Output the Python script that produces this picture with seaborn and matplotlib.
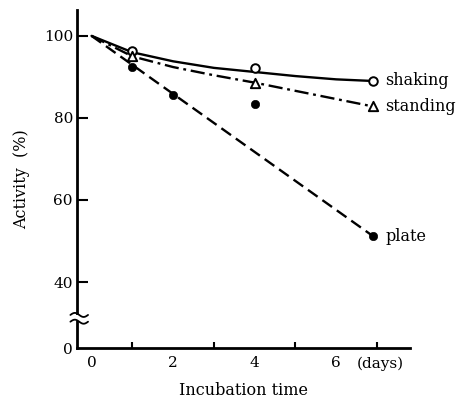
import numpy as np
import pandas as pd
import matplotlib
matplotlib.use("Agg")
import matplotlib.pyplot as plt
import seaborn as sns

# ---- data ----
days_shaking = [1, 4, 6.9]
act_shaking = [96.2, 92.1, 89.0]
days_standing = [1, 4, 6.9]
act_standing = [95.0, 88.6, 82.8]
days_plate = [1, 2, 4, 6.9]
act_plate = [92.3, 85.6, 83.3, 51.2]

fit_days = [0, 1, 2, 3, 4, 5, 6, 6.9]
fit_shaking = [100, 96.0, 93.8, 92.2, 91.2, 90.2, 89.4, 89.0]
fit_standing = [100, 95.0, 92.4, 90.4, 88.6, 86.6, 84.6, 82.8]
fit_plate_days = [0, 6.9]
fit_plate = [100, 51.2]

series_names = ["shaking", "standing", "plate"]
ytick_vals = [40, 60, 80, 100]
xtick_major = [0, 2, 4, 6]
xtick_minor = [1, 3, 5, 7]
zero_pos = 23.9  # broken-axis position of the "0" label

sns.set_theme(style="white")
plt.rcParams["font.family"] = ["DejaVu Serif"]
plt.rcParams.update({"text.color": "black", "axes.labelcolor": "black",
                     "xtick.color": "black", "ytick.color": "black"})

fig = plt.figure(figsize=(4.67, 4.01), dpi=100)
ax = fig.add_axes([0.165, 0.132, 0.713, 0.843])

lw = 1.7
sns.lineplot(x=fit_days, y=fit_shaking, ax=ax, color="black", lw=lw, linestyle="-")
sns.lineplot(x=fit_days, y=fit_standing, ax=ax, color="black", lw=lw, linestyle=(0, (6, 2, 1.2, 2)))
sns.lineplot(x=fit_plate_days, y=fit_plate, ax=ax, color="black", lw=lw, linestyle=(0, (5, 2.5)))

sns.scatterplot(x=days_shaking, y=act_shaking, ax=ax, marker="o", s=38,
                facecolor="white", edgecolor="black", linewidth=1.4, zorder=5)
sns.scatterplot(x=days_standing, y=act_standing, ax=ax, marker="^", s=45,
                facecolor="white", edgecolor="black", linewidth=1.4, zorder=5)
sns.scatterplot(x=days_plate, y=act_plate, ax=ax, marker="o", s=36,
                color="black", edgecolor="black", zorder=5)

ends = [(days_shaking[-1], act_shaking[-1]), (days_standing[-1], act_standing[-1]),
        (days_plate[-1], act_plate[-1])]
for name, (xe, ye) in zip(series_names, ends):
    ax.annotate(name, (xe, ye), xytext=(9, 0), textcoords="offset points",
                va="center", ha="left", fontsize=11.5, color="black")

ax.set_xlim(-0.355, 7.81)
ax.set_ylim(zero_pos, 106.3)
ax.set_xticks(xtick_major)
ax.set_xticks(xtick_minor, minor=True)
ax.set_xticklabels([str(v) for v in xtick_major], fontsize=11)
ax.set_yticks([zero_pos] + ytick_vals)
ax.set_yticklabels(["0"] + [str(v) for v in ytick_vals], fontsize=11)
ax.tick_params(axis="x", which="major", direction="in", length=8, width=1.5, pad=6, color="black")
ax.tick_params(axis="x", which="minor", direction="in", length=4.5, width=1.5, color="black", bottom=True)
ax.tick_params(axis="y", direction="in", length=8, width=1.5, pad=3, color="black", left=True)
ax.yaxis.get_major_ticks()[0].tick1line.set_visible(False)

ax.annotate("(days)", xy=(7.07, 0), xycoords=("data", "axes fraction"),
            xytext=(0, -6), textcoords="offset points", ha="center", va="top", fontsize=11)

ax.set_xlabel("Incubation time", fontsize=11.5, labelpad=8)
ax.set_ylabel("Activity  (%)", fontsize=11.5, labelpad=10)

for s in ["top", "right"]:
    ax.spines[s].set_visible(False)
for s in ["left", "bottom"]:
    ax.spines[s].set_color("black")
    ax.spines[s].set_linewidth(2)

# axis break marks on the y spine
ax.add_patch(plt.Rectangle((-0.02, 0.079), 0.05, 0.018, transform=ax.transAxes,
                           facecolor="white", edgecolor="none", clip_on=False, zorder=6))
t = np.linspace(0, 1, 30)
for yb in (0.098, 0.078):
    ax.plot(-0.02 + 0.053 * t, yb + 0.006 * np.sin(2 * np.pi * t), color="black", lw=1.3,
            transform=ax.transAxes, clip_on=False, zorder=7)

fig.savefig("out.png", dpi=100)
